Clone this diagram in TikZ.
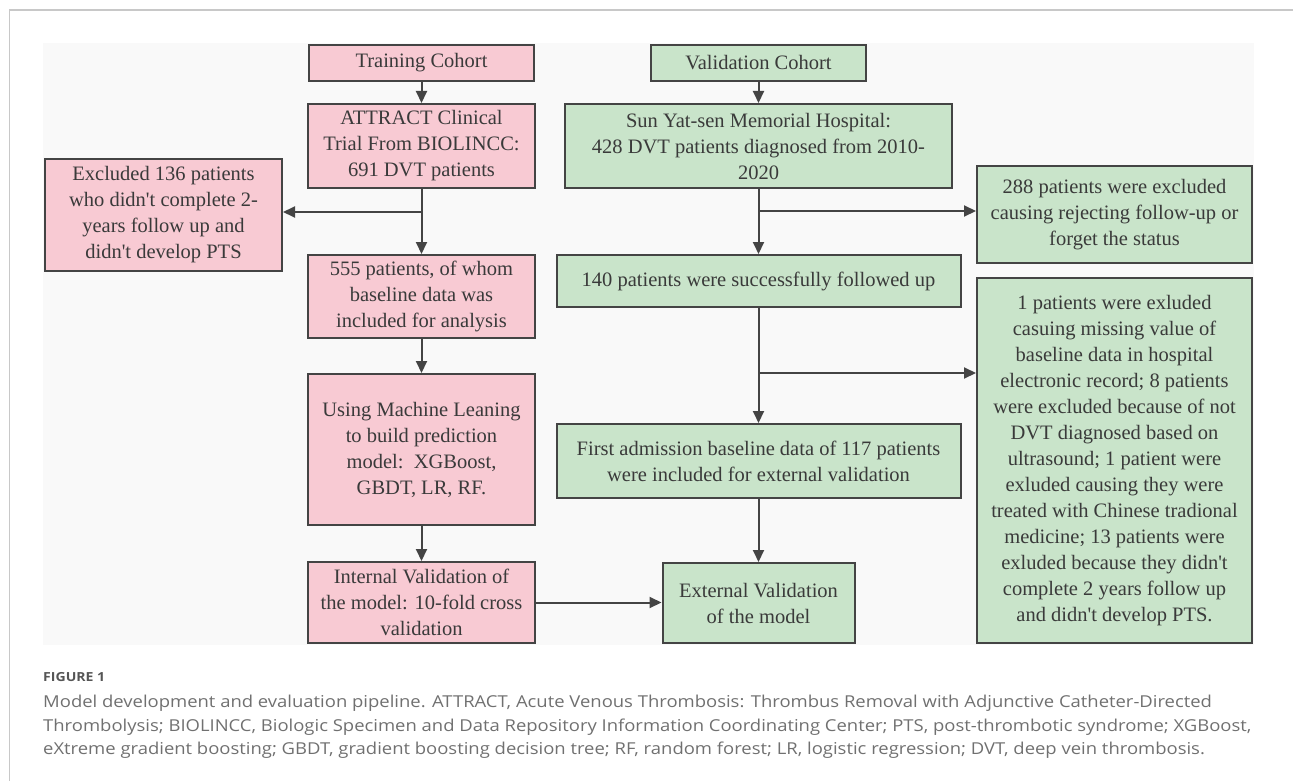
\documentclass[tikz,border=0pt]{standalone}
\usepackage{fontspec}
\setmainfont{Liberation Serif}
\newfontfamily\capfont[FakeStretch=1.125]{Open Sans}
\usetikzlibrary{arrows.meta}
\definecolor{pinkfill}{HTML}{F8CAD3}
\definecolor{greenfill}{HTML}{C9E4CA}
\definecolor{boxline}{HTML}{444444}
\definecolor{boxtext}{HTML}{3A3A3A}
\definecolor{panelbg}{HTML}{F9F9F9}
\definecolor{framegray}{HTML}{C8C8C8}
\definecolor{captext}{HTML}{707070}
\definecolor{capfig}{HTML}{555555}
\newcommand{\apos}{\textquotesingle}
\tikzset{
  basebox/.style={draw=boxline, line width=2pt, inner sep=0pt, align=center,
    text=boxtext, font=\fontsize{20.5}{26}\selectfont},
  pinkbox/.style={basebox, fill=pinkfill},
  greenbox/.style={basebox, fill=greenfill},
  arr/.style={draw=boxline, line width=2pt, -{Triangle[length=12pt,width=11pt]}},
  captionline/.style={anchor=base west, inner sep=0pt, text=captext,
    font=\capfont\fontsize{16.4}{20}\selectfont},
}
\begin{document}
\begin{tikzpicture}[x=1pt,y=-1pt]
\useasboundingbox (0,0) rectangle (1293,781);
% open frame
\draw[framegray, line width=1.5pt] (9.5,781) -- (9.5,10) -- (1293,10);
% panel
\fill[panelbg] (43,43) rectangle (1254,645);
% training column
\node[pinkbox, minimum width=225pt, minimum height=36pt] (T1) at (421.5,63) {Training Cohort};
\node[pinkbox, minimum width=227pt, minimum height=84pt] (T2) at (421.5,146) {ATTRACT Clinical\\Trial From BIOLINCC:\\691 DVT patients};
\node[pinkbox, minimum width=237pt, minimum height=112pt] (EX) at (163.5,215) {Excluded 136 patients\\who didn\apos t complete 2-\\years follow up and\\didn\apos t develop PTS};
\node[pinkbox, minimum width=227pt, minimum height=83pt] (T3) at (421.5,296.5) {555 patients, of whom\\baseline data was\\included for analysis};
\node[pinkbox, minimum width=227pt, minimum height=151pt] (T4) at (421.5,449.5) {Using Machine Leaning\\to build prediction\\model:\ \ XGBoost,\\GBDT, LR, RF.};
\node[pinkbox, minimum width=227pt, minimum height=81pt] (T5) at (421.5,602.5) {Internal Validation of\\the model: 10-fold cross\\validation};
% validation column
\node[greenbox, minimum width=215pt, minimum height=36pt] (V1) at (758.5,63) {Validation Cohort};
\node[greenbox, minimum width=387pt, minimum height=84pt] (V2) at (758.5,146) {Sun Yat-sen Memorial Hospital:\\428 DVT patients diagnosed from 2010-\\2020};
\node[greenbox, minimum width=404pt, minimum height=52pt] (V3) at (758.5,281) {140 patients were successfully followed up};
\node[greenbox, minimum width=404pt, minimum height=74pt] (V4) at (758.5,461) {First admission baseline data of 117 patients\\were included for external validation};
\node[greenbox, minimum width=192pt, minimum height=80pt] (V5) at (758.5,603) {External Validation\\of the model};
\node[greenbox, minimum width=275pt, minimum height=97pt] (R1) at (1114.5,214.5) {288 patients were excluded\\causing rejecting follow-up or\\forget the status};
\node[greenbox, minimum width=275pt, minimum height=365pt] (R2) at (1114.5,460.5) {1 patients were exluded\\casuing missing value of\\baseline data in hospital\\electronic record; 8 patients\\were excluded because of not\\DVT diagnosed based on\\ultrasound; 1 patient were\\exluded causing they were\\treated with Chinese tradional\\medicine; 13 patients were\\exluded because they didn\apos t\\complete 2 years follow up\\and didn\apos t develop PTS.};
% branch coordinates
\coordinate (bT) at (421.5,212);
\coordinate (bV1) at (758.5,211);
\coordinate (bV2) at (758.5,373);
% connectors
\draw[arr] (T1) -- (T2);
\draw[arr] (T2) -- (T3);
\draw[arr] (bT) -- (bT -| EX.east);
\draw[arr] (T3) -- (T4);
\draw[arr] (T4) -- (T5);
\draw[arr] (T5.east) -- (T5.east -| V5.west);
\draw[arr] (V1) -- (V2);
\draw[arr] (V2) -- (V3);
\draw[arr] (bV1) -- (bV1 -| R1.west);
\draw[arr] (V3) -- (V4);
\draw[arr] (bV2) -- (bV2 -| R2.west);
\draw[arr] (V4) -- (V5);
% caption
\node[anchor=base west, inner sep=0pt, text=capfig, font=\capfont\bfseries\fontsize{12.5}{15}\selectfont] (fig) at (43,681) {FIGURE 1};
\node[captionline] (c1) at (43,707) {Model development and evaluation pipeline. ATTRACT, Acute Venous Thrombosis: Thrombus Removal with Adjunctive Catheter-Directed};
\node[captionline] (c2) at (43,731) {Thrombolysis; BIOLINCC, Biologic Specimen and Data Repository Information Coordinating Center; PTS, post-thrombotic syndrome; XGBoost,};
\node[captionline] (c3) at (43,754) {eXtreme gradient boosting; GBDT, gradient boosting decision tree; RF, random forest; LR, logistic regression; DVT, deep vein thrombosis.};
\end{tikzpicture}
\end{document}
